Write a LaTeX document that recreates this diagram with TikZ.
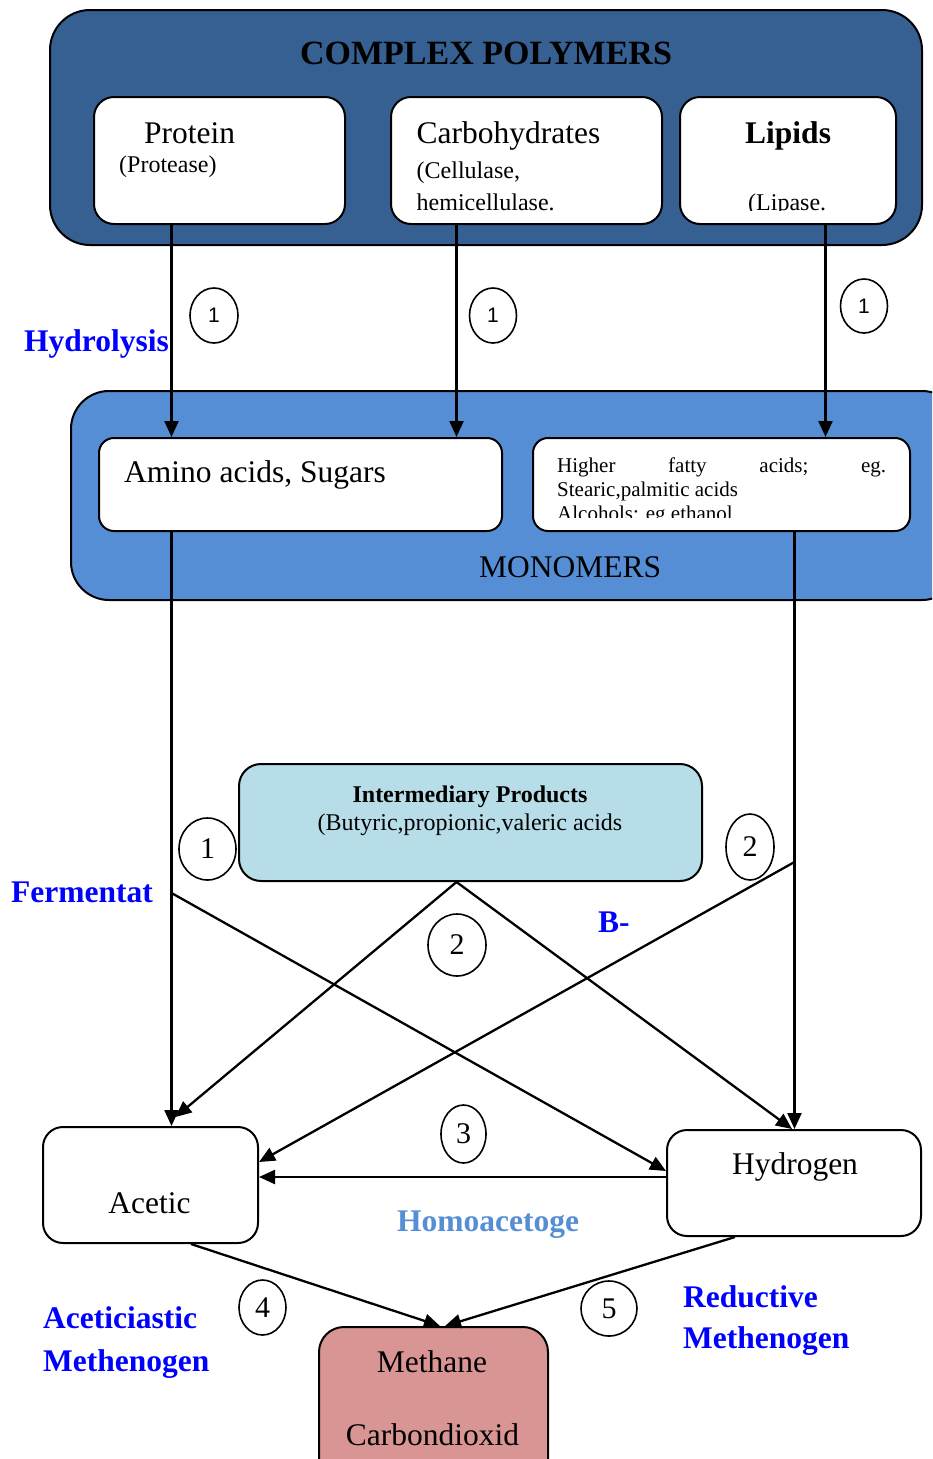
\documentclass[tikz,border=0pt]{standalone}
\usepackage{fontspec}
\setmainfont{Liberation Serif}
\newfontfamily\numsans{Liberation Sans}
\usetikzlibrary{shapes.geometric,arrows.meta}
\definecolor{darkblue}{RGB}{54,96,146}
\definecolor{midblue}{RGB}{85,142,213}
\definecolor{lightblue}{RGB}{183,221,232}
\definecolor{rose}{RGB}{217,149,148}
\definecolor{txtblue}{RGB}{0,0,255}
\newcommand{\fsz}[1]{\fontsize{#1}{#1}\selectfont}
\begin{document}
\begin{tikzpicture}[x=1pt,y=-1pt,
  bigbox/.style={draw, line width=2pt, inner sep=0pt},
  wbox/.style={draw, line width=2pt, fill=white, rounded corners=20pt, inner sep=0pt},
  txt/.style={inner sep=0pt, anchor=base west},
  ctxt/.style={inner sep=0pt, anchor=base},
  lbl/.style={inner sep=0pt, anchor=base west, text=txtblue, font=\bfseries\fsz{31.5}},
  ell/.style={draw, ellipse, line width=1.6pt, inner sep=0pt, font=\fsz{30}},
  sell/.style={draw, ellipse, line width=1.6pt, inner sep=0pt, font=\numsans\fsz{21}},
  arr/.style={line width=2.3pt, -{Triangle[length=16pt,width=14pt]}},
  ln/.style={line width=2.3pt}]
\useasboundingbox (0,0) rectangle (932,1459);
\clip (0,0) rectangle (932,1459);

% ---------- complex polymers ----------
\node[bigbox, fill=darkblue, rounded corners=40pt, minimum width=872pt, minimum height=235pt] (poly) at (486,127.5) {};
\node[ctxt, font=\bfseries\fsz{34}] (title) at (486,64) {COMPLEX POLYMERS};

\node[wbox, minimum width=251pt, minimum height=127pt] (protein) at (219.5,160.5) {};
\node[wbox, minimum width=271pt, minimum height=127pt] (carbo) at (526.5,160.5) {};
\node[wbox, minimum width=216pt, minimum height=127pt] (lipids) at (788,160.5) {};

\node[txt, font=\fsz{31.5}] (tprot) at (144,143) {Protein};
\node[txt, font=\fsz{24}] (tprot2) at (119,172) {(Protease)};
\node[txt, font=\fsz{31.5}] (tcarb) at (416.5,143) {Carbohydrates};
\node[txt, font=\bfseries\fsz{31.5}] (tlip) at (745,143) {Lipids};
\begin{scope}
  \clip (391,97) rectangle (896,210.5);
  \node[txt, font=\fsz{24}] (tcarb2) at (416.5,178) {(Cellulase,};
  \node[txt, font=\fsz{24}] (tcarb3) at (416.5,210) {hemicellulase.};
  \node[txt, font=\fsz{24}] (tlip2) at (748,210) {(Lipase.};
\end{scope}

% ---------- monomers ----------
\node[bigbox, fill=midblue, rounded corners=38pt, minimum width=889pt, minimum height=209pt] (mono) at (515.5,495.5) {};
\node[wbox, rounded corners=15pt, minimum width=403pt, minimum height=93pt] (amino) at (300.5,484.5) {};
\node[wbox, rounded corners=15pt, minimum width=377pt, minimum height=93pt] (fatty) at (721.5,484.5) {};
\node[txt, font=\fsz{31.5}] (tamino) at (124,482) {Amino acids, Sugars};
\begin{scope}
  \clip (533,438) rectangle (910,517);
  \node[txt, font=\fsz{21}] (tf1) at (557,472) {\makebox[329pt][l]{Higher\hfill fatty\hfill acids;\hfill eg.}};
  \node[txt, font=\fsz{21}] (tf2) at (557,496) {Stearic,palmitic acids};
  \node[txt, font=\fsz{21}] (tf3) at (557,520) {Alcohols: eg ethanol};
\end{scope}
\node[txt, font=\fsz{31.5}] (tmono) at (479,577) {MONOMERS};

% ---------- intermediary ----------
\node[wbox, fill=lightblue, rounded corners=22pt, minimum width=463pt, minimum height=117pt] (inter) at (470.5,822.5) {};
\node[ctxt, font=\bfseries\fsz{24}] (tint1) at (470,802) {Intermediary Products};
\node[ctxt, font=\fsz{24}] (tint2) at (470,830) {(Butyric,propionic,valeric acids};

% ---------- bottom boxes ----------
\node[wbox, minimum width=215pt, minimum height=116pt] (acetic) at (150.5,1185) {};
\node[wbox, minimum width=254pt, minimum height=106pt] (hydrogen) at (794,1183) {};
\node[wbox, fill=rose, rounded corners=25pt, minimum width=229pt, minimum height=163pt] (methane) at (433.5,1408.5) {};
\node[ctxt, font=\fsz{31.5}] (tacetic) at (149.5,1213) {Acetic};
\node[ctxt, font=\fsz{31.5}] (thyd) at (795,1174) {Hydrogen};
\node[ctxt, font=\fsz{31.5}] (tmeth) at (432,1372) {Methane};
\node[ctxt, font=\fsz{31.5}] (tco2) at (432.5,1445) {Carbondioxid};

% ---------- labels ----------
\node[lbl] (hydro) at (24,351) {Hydrolysis};
\node[lbl] (ferm) at (11,902) {Fermentat};
\node[lbl] (bminus) at (598,932) {B-};
\node[lbl, text=midblue] (homo) at (397,1231) {Homoacetoge};
\node[lbl] (acet1) at (43,1328) {Aceticiastic};
\node[lbl] (acet2) at (43,1371) {Methenogen};
\node[lbl] (red1) at (683,1307) {Reductive};
\node[lbl] (red2) at (683,1348) {Methenogen};

% ---------- numbered circles ----------
\node[sell, minimum width=48pt, minimum height=55pt] (n1a) at (214,315.5) {1};
\node[sell, minimum width=47pt, minimum height=55pt] (n1b) at (493,315.5) {1};
\node[sell, minimum width=47pt, minimum height=54pt] (n1c) at (864,306) {1};
\node[ell, minimum width=57pt, minimum height=62pt] (n1d) at (207.5,849) {1};
\node[ell, minimum width=48pt, minimum height=66pt] (n2a) at (750,847) {2};
\node[ell, minimum width=58pt, minimum height=62pt] (n2b) at (457,945) {2};
\node[ell, minimum width=45pt, minimum height=58pt] (n3) at (463.5,1134) {3};
\node[ell, minimum width=47pt, minimum height=55pt] (n4) at (262.5,1307.5) {4};
\node[ell, minimum width=56pt, minimum height=55pt] (n5) at (609,1308.5) {5};

% ---------- connectors ----------
\coordinate (xA) at (171.5,0);
\coordinate (xB) at (456.5,0);
\coordinate (xC) at (825.5,0);
\coordinate (xD) at (794.5,0);
\coordinate (fA) at (171.5,893);
\coordinate (fB) at (794.5,862);
\coordinate (hY) at (0,1177);
\coordinate (aB) at (191,0);
\coordinate (hB) at (735,0);
\coordinate (mL) at (440,0);
\coordinate (mR) at (445,0);

\draw[arr] (protein.south -| xA) -- (amino.north -| xA);
\draw[arr] (carbo.south -| xB) -- (amino.north -| xB);
\draw[arr] (lipids.south -| xC) -- (fatty.north -| xC);
\draw[arr] (amino.south -| xA) -- (acetic.north -| xA);
\draw[arr] (fatty.south -| xD) -- (hydrogen.north -| xD);
\draw[arr] (fA) -- ([yshift=12pt]hydrogen.west);
\draw[arr] (inter.south -| xB) -- ([xshift=25pt,yshift=9pt]acetic.north);
\draw[arr] (inter.south -| xB) -- ([xshift=-2pt]hydrogen.north);
\draw[arr] (fB) -- ([yshift=23pt]acetic.east);
\draw[arr] (hydrogen.west |- hY) -- (acetic.east |- hY);
\draw[arr] (acetic.south -| aB) -- (methane.north -| mL);
\draw[arr] (hydrogen.south -| hB) -- (methane.north -| mR);
\end{tikzpicture}
\end{document}
